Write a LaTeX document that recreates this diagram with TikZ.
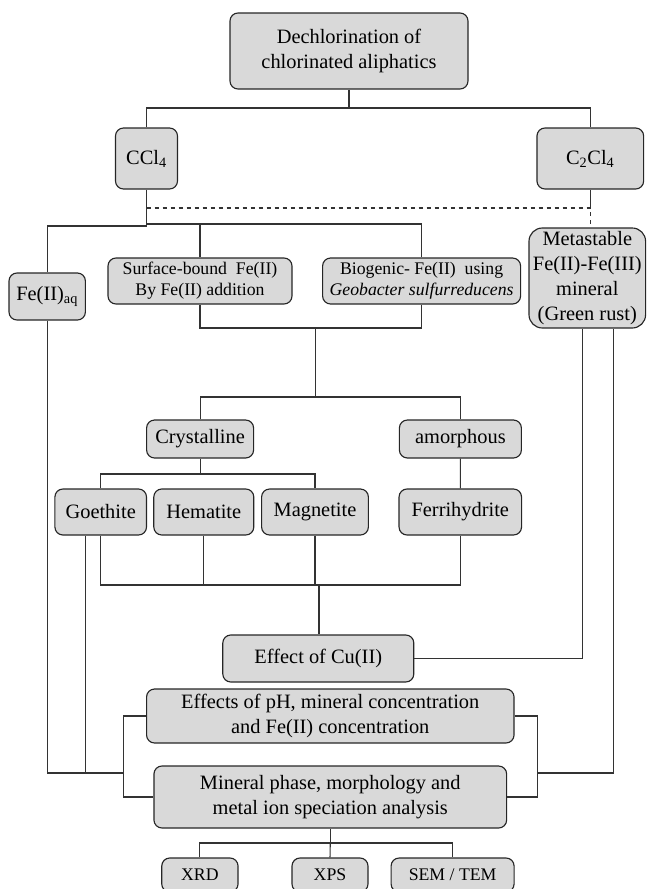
\documentclass[tikz,border=0pt]{standalone}
\usepackage{fontspec}
\setmainfont{Liberation Serif}
\newcommand\fbig{\fontsize{15.3}{18.75}\selectfont}
\newcommand\fsmall{\fontsize{13.3}{15.75}\selectfont}
\begin{document}
\begin{tikzpicture}[x=0.75pt,y=-0.75pt,
  box/.style={draw=black!85, line width=0.85pt, fill=gray!30, rounded corners=6pt,
              inner sep=0pt, align=center, font=\fbig},
  sbox/.style={box, font=\fsmall},
  ln/.style={draw=black!80, line width=0.8pt}]
\useasboundingbox (0,0) rectangle (647,889);

% nodes
\node[box, minimum width=178.5pt, minimum height=57pt] (top) at (349,51) {Dechlorination of\\chlorinated aliphatics};
\node[box, minimum width=46.5pt, minimum height=45.75pt] (ccl) at (146.5,158.5) {CCl\textsubscript{4}};
\node[box, minimum width=80pt, minimum height=45.75pt] (c2cl) at (590.3,158.5) {C\textsubscript{2}Cl\textsubscript{4}};
\node[box, minimum width=57.3pt, minimum height=35.25pt] (feaq) at (47.2,296.5) {Fe(II)\textsubscript{aq}};
\node[sbox, minimum width=138pt, minimum height=34.5pt] (surf) at (200,281) {Surface-bound\ \ Fe(II)\\By Fe(II) addition};
\node[sbox, minimum width=148.5pt, minimum height=34.5pt] (bio) at (421.6,281) {Biogenic- Fe(II)\ \ using\\\textit{Geobacter sulfurreducens}};
\node[box, rounded corners=10pt, minimum width=87.45pt, minimum height=75pt] (meta) at (587.3,278) {Metastable\\Fe(II)-Fe(III)\\mineral\\(Green rust)};
\node[box, minimum width=80.25pt, minimum height=28.5pt] (cryst) at (200.1,439) {Crystalline};
\node[box, minimum width=91.5pt, minimum height=28.5pt] (amor) at (460.4,439) {amorphous};
\node[box, minimum width=68.7pt, minimum height=34.5pt] (goe) at (100.7,512) {Goethite};
\node[box, minimum width=75pt, minimum height=34.5pt] (hem) at (203.8,512) {Hematite};
\node[box, minimum width=80.1pt, minimum height=34.5pt] (mag) at (315,512) {Magnetite};
\node[box, minimum width=91.9pt, minimum height=34.5pt] (ferri) at (460.3,512) {Ferrihydrite};
\node[box, minimum width=143.25pt, minimum height=35.25pt] (cu) at (318.3,658.5) {Effect of Cu(II)};
\node[box, minimum width=275.6pt, minimum height=40.5pt] (ph) at (330.3,716) {Effects of pH, mineral concentration\\and Fe(II) concentration};
\node[box, minimum width=264.5pt, minimum height=46.5pt] (minph) at (330.3,797) {Mineral phase, morphology and\\metal ion speciation analysis};
\node[sbox, minimum width=57.2pt, minimum height=25.5pt] (xrd) at (199.9,875) {XRD};
\node[sbox, minimum width=57pt, minimum height=25.5pt] (xps) at (330,875) {XPS};
\node[sbox, minimum width=92.25pt, minimum height=25.5pt] (sem) at (452.6,875) {SEM / TEM};

% connectors
\coordinate (t1) at (349,108);
\draw[ln] (top.south) -- (t1);
\draw[ln] (ccl.north) |- (t1) -| (c2cl.north);

\coordinate (d1) at (146.5,208);
\coordinate (d2) at (590.3,208);
\draw[ln] (c2cl.south) -- (d2);
\draw[ln, dashed] (d1) -- (d2) -- (d2 |- meta.north);

\coordinate (c1) at (146.5,224);
\coordinate (c0) at (146.5,226);
\draw[ln] (ccl.south) -- (c0);
\draw[ln] (c1) -| (bio.north);
\draw[ln] (surf.north) -- (surf.north |- c1);
\draw[ln] (c0) -| (feaq.north);

\coordinate (s1) at (315.2,328);
\coordinate (s2) at (315.2,397);
\draw[ln] (surf.south) |- (s1);
\draw[ln] (bio.south) |- (s1);
\draw[ln] (s1) -- (s2);
\draw[ln] (cryst.north) |- (s2) -| (amor.north);

\coordinate (k1) at (200.1,474);
\draw[ln] (cryst.south) -- (k1);
\draw[ln] (goe.north) |- (k1) -| (mag.north);
\draw[ln] (amor.south) -- (ferri.north);

\coordinate (b1) at (318.9,585);
\draw[ln] (goe.south) |- (b1) -| (ferri.south);
\draw[ln] (hem.south) -- (hem.south |- b1);
\draw[ln] (mag.south) -- (mag.south |- b1);
\draw[ln, line width=1.6pt] (b1) -- (b1 |- cu.north);

\coordinate (L) at (123.4,773);
\coordinate (R) at (537.1,773);
\coordinate (R2) at (613.5,773);
\draw[ln] (feaq.south) |- (L);
\draw[ln] ([xshift=-11.5pt]goe.south) coordinate (g1) -- (g1 |- L);
\draw[ln] (ph.west) -| (L) |- (minph.west);
\draw[ln] (ph.east) -| (R) |- (minph.east);
\draw[ln] (R) -- (R2) -- (R2 |- meta.south);
\draw[ln] (cu.east) -| ([xshift=-3.6pt]meta.south);

\coordinate (m1) at (330.3,843);
\draw[ln] (minph.south) -- (m1);
\draw[ln] (xrd.north) |- (m1) -| (sem.north);
\draw[ln] (m1) -- (xps.north);
\end{tikzpicture}
\end{document}
